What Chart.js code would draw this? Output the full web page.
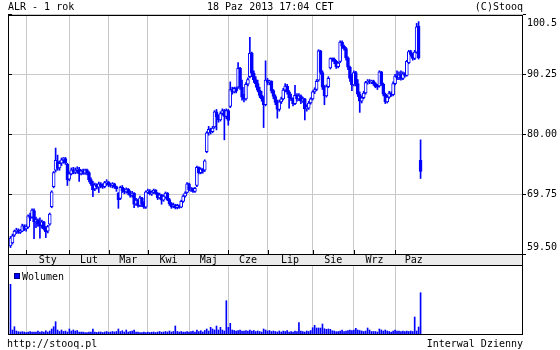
<!DOCTYPE html>
<html>
<head>
<meta charset="utf-8">
<script src="https://cdn.jsdelivr.net/npm/chart.js@4.4.1/dist/chart.umd.min.js"></script>
<style>
  body { margin: 0; background: #fff; }
  #wrap { position: relative; width: 560px; height: 350px; }
  canvas { position: absolute; left: 0; top: 0; }
</style>
</head>
<body>
<div id="wrap">
  <canvas id="price" width="560" height="350"></canvas>
  <canvas id="volume" width="560" height="350"></canvas>
</div>
<script>
// ALR daily, 14 Dec 2012 .. 18 Oct 2013 (one slot per trading day)
const openPrice = [
  60.9, 61.4, 62.7, 63.3, 63.6, 63.2, 63.4, 64.2, 63.8, 64.1,
  66.0, 65.8, 66.9, 65.0, 65.3, 64.6, 64.4, 65.0, 63.8, 63.4,
  64.6, 67.6, 71.0, 73.8, 75.3, 74.2, 75.0, 75.6, 75.8, 74.8,
  72.3, 73.2, 73.9, 73.5, 73.8, 74.0, 73.2, 73.7, 73.3, 73.9,
  73.4, 72.2, 71.5, 70.6, 71.3, 70.9, 71.5, 71.1, 71.0, 71.7,
  71.8, 71.3, 71.2, 71.5, 71.0, 69.9, 69.0, 70.9, 70.3, 70.1,
  70.6, 69.9, 69.5, 69.9, 68.0, 68.7, 67.8, 69.1, 68.0, 67.5,
  70.1, 70.2, 69.8, 70.0, 70.4, 69.9, 69.1, 69.6, 68.7, 69.2,
  69.9, 68.8, 68.1, 67.6, 67.9, 67.4, 67.8, 67.5, 68.5, 69.4,
  70.0, 71.5, 70.5, 70.7, 70.2, 71.2, 74.3, 73.4, 74.0, 73.8,
  77.0, 80.2, 80.8, 80.4, 81.2, 83.8, 82.9, 82.4, 83.5, 84.0,
  83.0, 84.0, 84.7, 87.6, 87.2, 87.8, 88.0, 91.2, 88.0, 86.3,
  86.0, 88.5, 89.8, 93.8, 90.4, 89.3, 88.6, 87.5, 86.6, 86.0,
  85.0, 89.2, 88.8, 89.0, 87.4, 86.4, 85.4, 84.2, 85.5, 86.0,
  87.5, 88.2, 87.2, 86.2, 86.0, 85.2, 86.6, 86.0, 86.5, 85.6,
  86.0, 84.3, 84.4, 85.3, 86.0, 87.2, 87.6, 89.2, 94.2, 90.5,
  88.0, 86.5, 88.1, 91.3, 92.9, 92.8, 92.4, 91.5, 92.4, 95.7,
  95.0, 94.6, 93.0, 91.4, 89.5, 88.4, 90.5, 88.6, 86.8, 85.6,
  86.2, 87.0, 88.8, 89.0, 88.9, 89.1, 88.6, 88.1, 88.2, 90.6,
  88.5, 86.8, 85.5, 86.3, 87.0, 86.7, 88.6, 89.9, 89.6, 90.1,
  89.5, 90.3, 90.0, 92.2, 94.1, 93.6, 92.9, 94.0, 98.4, 75.5
];
const highPrice = [
  62.5, 62.9, 63.6, 63.9, 63.8, 63.7, 64.6, 64.5, 64.5, 66.2,
  66.5, 67.2, 67.2, 65.8, 65.5, 65.7, 65.3, 65.1, 64.2, 64.4,
  66.5, 70.3, 73.6, 77.6, 76.4, 75.4, 75.9, 76.0, 76.0, 75.0,
  73.5, 74.2, 74.3, 74.2, 74.4, 74.3, 73.9, 74.0, 74.0, 74.0,
  73.6, 72.5, 71.9, 71.6, 71.5, 71.8, 71.7, 71.5, 71.9, 72.2,
  71.9, 71.6, 71.7, 71.6, 71.1, 70.0, 71.1, 71.2, 70.7, 70.8,
  70.7, 70.3, 70.2, 70.0, 69.0, 68.9, 69.4, 69.2, 68.4, 70.3,
  70.6, 70.5, 70.3, 70.6, 70.5, 70.0, 69.9, 69.7, 69.6, 70.1,
  70.0, 69.0, 68.3, 68.2, 68.0, 68.0, 67.9, 68.7, 69.6, 70.1,
  71.7, 71.6, 70.9, 70.8, 70.9, 74.5, 74.4, 74.2, 74.1, 75.6,
  80.4, 81.3, 81.0, 81.3, 84.0, 84.2, 83.3, 83.8, 84.3, 84.2,
  84.3, 84.2, 88.9, 88.0, 88.0, 88.0, 92.2, 91.4, 89.2, 86.8,
  88.8, 89.6, 96.5, 94.0, 90.8, 89.8, 89.2, 88.0, 87.3, 86.4,
  92.5, 89.5, 89.2, 89.1, 87.6, 86.7, 85.8, 85.8, 86.3, 87.8,
  88.6, 88.5, 87.4, 86.8, 86.2, 88.3, 86.9, 86.9, 86.7, 86.3,
  86.1, 85.0, 85.6, 86.2, 87.4, 87.9, 89.3, 94.4, 94.3, 90.8,
  88.3, 88.4, 89.8, 93.0, 93.0, 93.0, 92.6, 92.3, 95.9, 95.9,
  95.2, 94.8, 93.2, 91.6, 90.2, 90.8, 90.7, 89.3, 87.2, 86.5,
  87.3, 89.0, 89.3, 89.3, 89.2, 89.2, 88.8, 88.5, 90.8, 90.7,
  88.7, 87.0, 86.6, 87.3, 87.2, 88.9, 90.2, 90.8, 90.6, 90.8,
  90.6, 90.5, 92.6, 94.3, 94.3, 93.8, 94.3, 98.9, 99.2, 79.0
];
const lowPrice = [
  60.6, 61.2, 62.5, 63.0, 63.0, 63.0, 63.3, 63.5, 63.4, 63.9,
  65.2, 65.6, 62.1, 64.0, 64.2, 62.2, 63.9, 63.6, 62.3, 63.1,
  64.4, 67.4, 70.8, 73.5, 73.8, 73.8, 74.6, 75.0, 74.8, 71.2,
  72.0, 73.0, 73.2, 73.2, 73.3, 71.9, 73.0, 73.1, 73.1, 73.0,
  71.8, 71.2, 69.3, 70.3, 70.6, 70.0, 70.8, 70.7, 70.8, 71.2,
  71.0, 70.9, 70.8, 70.7, 70.2, 67.3, 68.8, 70.0, 69.8, 69.9,
  69.6, 69.2, 69.2, 67.4, 67.8, 67.5, 67.6, 67.6, 67.3, 67.3,
  69.8, 69.6, 69.5, 69.8, 69.7, 68.8, 68.9, 68.0, 68.5, 69.0,
  68.6, 67.8, 67.3, 67.4, 67.2, 67.2, 67.3, 67.4, 68.3, 69.2,
  69.9, 70.3, 70.2, 70.0, 70.0, 71.0, 73.2, 73.2, 73.3, 73.6,
  76.8, 79.8, 80.0, 80.2, 81.0, 80.7, 82.0, 82.2, 83.2, 79.0,
  82.6, 81.5, 84.5, 86.8, 87.0, 87.0, 87.8, 87.6, 85.8, 85.5,
  85.8, 88.2, 89.6, 89.8, 88.8, 88.0, 87.2, 86.2, 85.6, 81.1,
  84.8, 88.4, 88.4, 87.0, 86.0, 85.0, 82.7, 83.9, 85.2, 85.8,
  87.2, 86.8, 84.4, 85.7, 84.8, 85.0, 85.6, 85.7, 85.2, 85.4,
  82.4, 83.9, 84.2, 85.1, 85.8, 86.9, 87.4, 89.0, 90.2, 87.6,
  85.0, 86.3, 87.9, 91.1, 92.4, 92.0, 91.2, 91.3, 92.2, 94.6,
  94.3, 92.6, 91.0, 89.0, 87.4, 88.2, 88.2, 86.4, 83.7, 85.3,
  86.0, 86.8, 88.5, 88.6, 88.6, 88.3, 87.9, 87.6, 88.0, 88.3,
  86.5, 85.2, 85.3, 86.1, 86.4, 86.5, 88.4, 89.3, 89.3, 89.2,
  89.3, 89.7, 89.9, 92.0, 93.3, 92.6, 92.7, 93.8, 92.8, 72.4
];
const closePrice = [
  62.2, 62.6, 63.4, 63.6, 63.2, 63.5, 64.3, 63.7, 64.2, 66.0,
  65.6, 67.0, 65.0, 65.4, 64.6, 64.3, 65.0, 63.8, 63.3, 64.2,
  66.3, 70.1, 73.4, 75.5, 74.1, 75.0, 75.6, 75.9, 75.1, 72.2,
  73.2, 73.9, 73.5, 73.8, 74.0, 73.2, 73.7, 73.3, 73.9, 73.4,
  72.2, 71.5, 70.5, 71.3, 70.9, 71.5, 71.1, 71.0, 71.7, 71.8,
  71.3, 71.2, 71.5, 71.0, 70.6, 68.8, 70.9, 70.3, 70.1, 70.6,
  69.9, 69.5, 69.9, 68.0, 68.7, 67.8, 69.1, 68.0, 67.5, 70.1,
  70.2, 69.8, 70.0, 70.4, 69.9, 69.1, 69.6, 68.7, 69.4, 69.9,
  68.8, 68.1, 67.6, 67.9, 67.4, 67.8, 67.5, 68.5, 69.4, 69.9,
  71.5, 70.5, 70.7, 70.2, 70.7, 74.3, 73.4, 74.0, 73.6, 75.4,
  80.2, 80.8, 80.4, 81.0, 83.8, 82.9, 82.4, 83.5, 84.0, 83.0,
  84.0, 82.3, 87.6, 87.2, 87.8, 87.3, 91.2, 88.0, 86.3, 86.0,
  88.5, 89.3, 93.8, 90.4, 89.3, 88.6, 87.5, 86.6, 86.0, 85.0,
  89.2, 88.8, 89.0, 87.4, 86.4, 85.4, 84.2, 85.5, 86.0, 87.5,
  88.2, 87.2, 86.2, 86.0, 85.2, 86.6, 86.0, 86.5, 85.6, 86.0,
  84.3, 84.6, 85.3, 86.0, 87.2, 87.6, 89.0, 94.2, 90.5, 88.0,
  86.5, 88.1, 89.5, 92.9, 92.8, 92.4, 91.5, 92.1, 95.7, 95.0,
  94.6, 93.0, 91.4, 89.5, 88.4, 90.5, 88.6, 86.8, 85.6, 86.2,
  87.0, 88.8, 89.0, 88.9, 89.1, 88.6, 88.1, 88.0, 90.6, 88.5,
  86.8, 85.5, 86.3, 87.0, 86.7, 88.6, 89.9, 89.6, 90.1, 89.5,
  90.3, 90.0, 92.4, 94.1, 93.6, 92.9, 94.0, 98.3, 93.0, 73.6
];
// thousands of shares
const volume = [
  4970, 400, 730, 300, 230, 200, 230, 200, 150, 200,
  250, 200, 180, 200, 300, 200, 250, 200, 330, 200,
  300, 500, 730, 1230, 400, 250, 400, 250, 300, 200,
  500, 300, 400, 300, 350, 200, 180, 180, 150, 150,
  200, 180, 500, 200, 150, 200, 200, 150, 200, 250,
  180, 200, 250, 200, 250, 500, 250, 330, 200, 400,
  200, 250, 300, 400, 200, 180, 150, 150, 180, 150,
  200, 150, 180, 200, 150, 200, 250, 180, 200, 250,
  200, 300, 200, 250, 800, 250, 200, 250, 200, 180,
  250, 200, 250, 300, 200, 400, 230, 330, 200, 350,
  500, 300, 670, 500, 400, 800, 400, 670, 400, 300,
  3330, 670, 1070, 400, 350, 300, 350, 400, 300, 300,
  350, 300, 400, 300, 350, 250, 300, 250, 200, 500,
  400, 300, 350, 250, 300, 250, 200, 300, 200, 300,
  250, 350, 200, 250, 200, 300, 250, 1130, 300, 250,
  200, 300, 250, 350, 630, 870, 600, 600, 600, 1000,
  530, 470, 500, 470, 330, 300, 230, 250, 300, 400,
  250, 300, 330, 400, 350, 400, 570, 400, 350, 300,
  250, 300, 600, 400, 250, 250, 250, 200, 500, 400,
  300, 400, 300, 250, 200, 300, 400, 300, 300, 250,
  300, 250, 300, 250, 300, 250, 1700, 300, 700, 4130
];

const monthNames = ["Sty", "Lut", "Mar", "Kwi", "Maj", "Cze", "Lip", "Sie", "Wrz", "Paz"];
const monthStart = [8, 30, 50, 70, 91, 111, 131, 154, 175, 196]; // first trading day index
const lastMonthEnd = 215;
const yTicks = [59.5, 69.75, 80, 90.25, 100.5];
const yLabels = ["59.50", "69.75", "80.00", "90.25", "100.5"];

const BLUE = "#0000ff";
const GRID = "#c8c8c8";
const FONT = "10px 'DejaVu Sans Mono', monospace";
const X_MIN = -1.27, X_MAX = 261.2; // room for a full year of sessions
const VOL_MAX = 6800;

const days = closePrice.map((c, i) => i);
const bodies = days.map(i => ({ x: i, y: [Math.min(openPrice[i], closePrice[i]), Math.max(openPrice[i], closePrice[i])] }));
const wicks = days.map(i => ({ x: i, y: [lowPrice[i], highPrice[i]] }));
const bodyFill = days.map(i => closePrice[i] >= openPrice[i] ? "#ffffff" : BLUE);

function xAxis() {
    return {
        type: "linear", min: X_MIN, max: X_MAX, offset: false,
        ticks: { display: false },
        grid: { color: GRID, offset: false, drawTicks: false },
        border: { display: false },
        afterBuildTicks: s => { s.ticks = monthStart.map(v => ({ value: v })); },
        afterFit: s => { s.height = 0; }
    };
}

const pricePanel = {
    id: "pricePanel",
    afterDraw(chart) {
        const { ctx, chartArea: a, scales: { x, y } } = chart;
        ctx.save();
        ctx.strokeStyle = "#000";
        ctx.lineWidth = 1;
        ctx.strokeRect(8.5, 15.5, 514, 239);
        // label band between the panels
        ctx.fillStyle = "#ebebeb";
        ctx.fillRect(9, 255, 513, 10);
        ctx.beginPath();
        ctx.moveTo(8.5, 254); ctx.lineTo(8.5, 266);
        ctx.moveTo(522.5, 254); ctx.lineTo(522.5, 266);
        // inner tick marks
        yTicks.forEach(v => {
            const py = Math.round(y.getPixelForValue(v)) + 0.5;
            ctx.moveTo(8, py); ctx.lineTo(12, py);
        });
        monthStart.forEach(v => {
            const px = Math.round(x.getPixelForValue(v)) + 0.5;
            ctx.moveTo(px, 254); ctx.lineTo(px, 250);
        });
        ctx.stroke();

        ctx.fillStyle = "#000";
        ctx.font = FONT;
        ctx.textBaseline = "middle";
        ctx.textAlign = "left";
        yTicks.forEach((v, k) => {
            let py = y.getPixelForValue(v);
            py = Math.min(Math.max(py, a.top + 9), a.bottom - 6.5);
            ctx.fillText(yLabels[k], 527, py);
        });

        ctx.textBaseline = "alphabetic";
        ctx.textAlign = "center";
        monthNames.forEach((m, k) => {
            const end = k + 1 < monthStart.length ? monthStart[k + 1] : lastMonthEnd;
            ctx.fillText(m, x.getPixelForValue((monthStart[k] + end) / 2), 263);
        });

        ctx.textAlign = "left";
        ctx.fillText("ALR - 1 rok", 8, 10);
        ctx.fillText("18 Paz 2013 17:04 CET", 207, 10);
        ctx.fillText("http://stooq.pl", 7, 347);
        ctx.textAlign = "right";
        ctx.fillText("(C)Stooq", 523, 10);
        ctx.fillText("Interwal Dzienny", 523, 347);
        ctx.restore();
    }
};

const volumePanel = {
    id: "volumePanel",
    afterDraw(chart) {
        const ctx = chart.ctx;
        ctx.save();
        ctx.strokeStyle = "#000";
        ctx.lineWidth = 1;
        ctx.strokeRect(8.5, 265.5, 514, 69);
        ctx.fillStyle = BLUE;
        ctx.fillRect(14, 273, 6, 6);
        ctx.strokeStyle = "#000080";
        ctx.strokeRect(14.5, 273.5, 5, 5);
        ctx.fillStyle = "#000";
        ctx.font = FONT;
        ctx.fillText("Wolumen", 22, 279.5);
        ctx.restore();
    }
};

new Chart(document.getElementById("price"), {
    type: "bar",
    data: {
        datasets: [
            {
                data: bodies, grouped: false, barThickness: 3, minBarLength: 1,
                backgroundColor: bodyFill, borderColor: BLUE, borderWidth: 1, borderSkipped: false
            },
            {
                data: wicks, grouped: false, barThickness: 1,
                backgroundColor: BLUE, borderWidth: 0
            }
        ]
    },
    options: {
        responsive: false, animation: false, events: [],
        layout: { padding: { left: 8, top: 14, right: 0, bottom: 96 } },
        plugins: { legend: { display: false }, tooltip: { enabled: false } },
        scales: {
            x: xAxis(),
            y: {
                type: "linear", position: "right", min: 59.5, max: 100.5,
                ticks: { display: false },
                grid: { color: GRID, tickColor: "#000", tickLength: 3, drawTicks: true },
                border: { display: false },
                afterBuildTicks: s => { s.ticks = yTicks.map(v => ({ value: v })); },
                afterFit: s => { s.width = 37; }
            }
        }
    },
    plugins: [pricePanel]
});

new Chart(document.getElementById("volume"), {
    type: "bar",
    data: {
        datasets: [{
            data: days.map(i => ({ x: i, y: volume[i] })),
            barThickness: 1, backgroundColor: BLUE, borderWidth: 0
        }]
    },
    options: {
        responsive: false, animation: false, events: [],
        layout: { padding: { left: 8, top: 266, right: 37, bottom: 16 } },
        plugins: { legend: { display: false }, tooltip: { enabled: false } },
        scales: {
            x: xAxis(),
            y: { type: "linear", display: false, min: 0, max: VOL_MAX }
        }
    },
    plugins: [volumePanel]
});
</script>
</body>
</html>
